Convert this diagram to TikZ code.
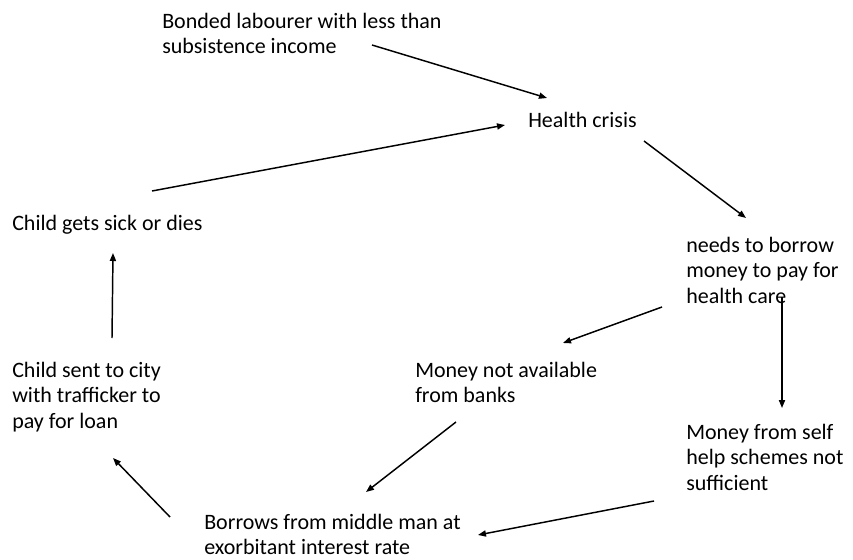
\documentclass[tikz,border=0pt]{standalone}
\usepackage{fontspec}
\setmainfont{Carlito}
\usetikzlibrary{arrows.meta,calc}

\tikzset{
  lbl/.style={anchor=north west, align=left, inner sep=0pt,
    font=\fontsize{16.5}{19}\selectfont},
  arr/.style={-{Triangle[length=6pt,width=4.6pt]}, line width=1.1pt}
}

\begin{document}
\begin{tikzpicture}[x=0.75pt,y=0.75pt,yscale=-1,xscale=1]
\useasboundingbox (0,0) rectangle (853,560);

% Text Nodes
\node[lbl] (bonded) at (162,13) {Bonded labourer with less than\\subsistence income};
\node[lbl] (health) at (528,112) {Health crisis};
\node[lbl] (sick) at (12,215) {Child gets sick or dies};
\node[lbl] (borrow) at (686,237) {needs to borrow\\money to pay for\\health care};
\node[lbl] (banks) at (415,362) {Money not available\\from banks};
\node[lbl] (sent) at (12,362) {Child sent to city\\with trafficker to\\pay for loan};
\node[lbl] (selfhelp) at (686,424) {Money from self\\help schemes not\\sufficient};
\node[lbl] (middleman) at (204,514) {Borrows from middle man at\\exorbitant interest rate};

% Arrows
\draw[arr] ($(bonded.north west)+(210,32)$) -- ($(health.north west)+(19,-14)$);
\draw[arr] ($(sick.north west)+(140,-24)$) -- ($(health.north west)+(-23,13)$);
\draw[arr] ($(health.north west)+(116,29)$) -- ($(borrow.north west)+(60,-19)$);
\draw[arr] ($(borrow.north west)+(-24,70)$) -- ($(banks.north west)+(148,-19)$);
\draw[arr] ($(borrow.north west)+(96,60)$) -- ($(selfhelp.north west)+(96,-16)$);
\draw[arr] ($(banks.north west)+(41,60)$) -- ($(middleman.north west)+(162,-22)$);
\draw[arr] ($(selfhelp.north west)+(-32,77)$) -- ($(middleman.north west)+(274,21)$);
\draw[arr] ($(middleman.north west)+(-34,3)$) -- ($(sent.north west)+(101,96)$);
\draw[arr] ($(sent.north west)+(100,-24)$) -- ($(sick.north west)+(101,38)$);

\end{tikzpicture}
\end{document}
